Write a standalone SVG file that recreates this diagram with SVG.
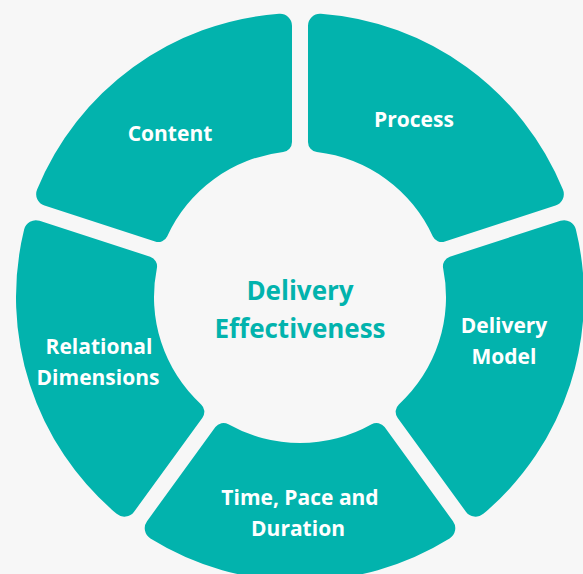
<svg xmlns="http://www.w3.org/2000/svg" xmlns:xlink="http://www.w3.org/1999/xlink" width="583" height="574" viewBox="0 0 583 574">
  <style>
    .seg { fill: #02B3AD; }
    .lbl { font-family: "Open Sans", "Noto Sans", "Liberation Sans", sans-serif; font-weight: 700; font-size: 21px; fill: #FFFFFF; text-anchor: middle; }
    .hub { font-family: "Open Sans", "Noto Sans", "Liberation Sans", sans-serif; font-weight: 700; font-size: 26px; fill: #02B3AD; text-anchor: middle; }
  </style>
  <defs>
    <!-- One ring segment (72° wedge minus a 16px gap), centred straight up, rounded corners -->
    <path id="segment" d="M -149.586,-241.415 A 284 284 0 0 1 149.586,-241.415 A 12 12 0 0 1 152.973,-224.160 L 84.611,-130.066 A 10 10 0 0 1 71.616,-127.230 A 146 146 0 0 0 -71.616,-127.230 A 10 10 0 0 1 -84.611,-130.066 L -152.973,-224.160 A 12 12 0 0 1 -149.586,-241.415 Z"/>
  </defs>
  <rect width="583" height="574" fill="#F7F7F7"/>

  <g id="content">
    <use xlink:href="#segment" class="seg" transform="translate(300,297) rotate(-36)"/>
    <text class="lbl" x="170" y="140.5">Content</text>
  </g>

  <g id="process">
    <use xlink:href="#segment" class="seg" transform="translate(300,297) rotate(36)"/>
    <text class="lbl" x="414" y="126.5">Process</text>
  </g>

  <g id="delivery-model">
    <use xlink:href="#segment" class="seg" transform="translate(300,297) rotate(108)"/>
    <text class="lbl" x="504" y="332.5">Delivery</text>
    <text class="lbl" x="504" y="363.5">Model</text>
  </g>

  <g id="time-pace-duration">
    <use xlink:href="#segment" class="seg" transform="translate(300,297) rotate(180)"/>
    <text class="lbl" x="300" y="505">Time, Pace and</text>
    <text class="lbl" x="298" y="536">Duration</text>
  </g>

  <g id="relational-dimensions">
    <use xlink:href="#segment" class="seg" transform="translate(300,297) rotate(-108)"/>
    <text class="lbl" x="99" y="354">Relational</text>
    <text class="lbl" x="98" y="385">Dimensions</text>
  </g>

  <g id="delivery-effectiveness">
    <text class="hub" x="300" y="299.5">Delivery</text>
    <text class="hub" x="300" y="337.5">Effectiveness</text>
  </g>

  <g id="connectors"/>
</svg>
